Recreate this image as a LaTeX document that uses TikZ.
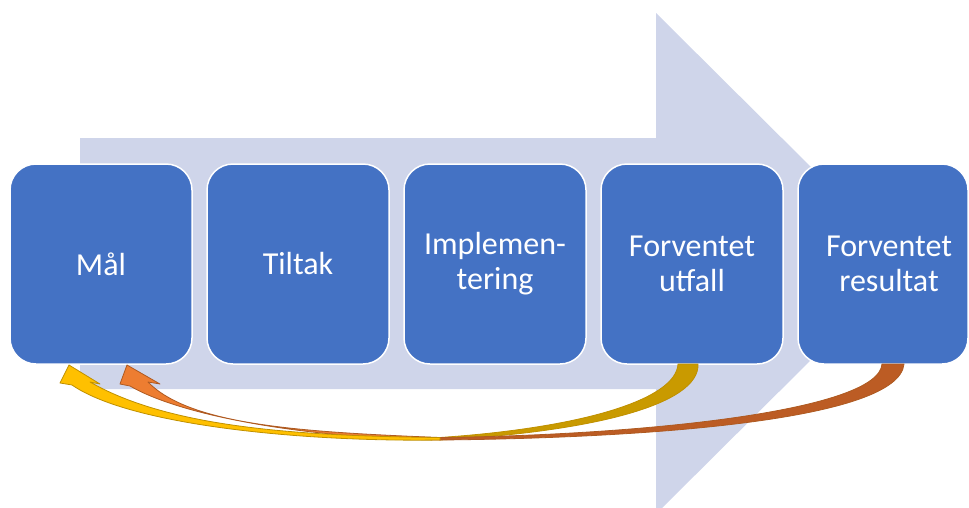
\documentclass[tikz,border=0pt]{standalone}
\usepackage{fontspec}
\setmainfont{Carlito}
\usetikzlibrary{positioning, calc}
\definecolor{boxblue}{HTML}{4472C4}
\definecolor{shaftblue}{HTML}{CFD5EA}
\definecolor{goldfront}{HTML}{FFC000}
\definecolor{goldback}{HTML}{C99A00}
\definecolor{goldedge}{HTML}{BF9000}
\definecolor{orangefront}{HTML}{ED7D31}
\definecolor{orangeback}{HTML}{BC5C24}
\definecolor{orangeedge}{HTML}{AE5A21}

\begin{document}
\begin{tikzpicture}[x=1pt, y=-1pt,
  stepbox/.style = {draw=white, line width=1.5pt, fill=boxblue, rounded corners=26pt,
    minimum width=182pt, minimum height=200pt, inner sep=0pt, outer sep=0pt,
    align=center, text=white, font=\fontsize{32}{35}\selectfont},
  band/.style = {line width=0.8pt, line join=round}]
			\def\shaftL{80};
			\def\shaftT{138};
			\def\shaftB{389};
			\def\headX{656};

			\useasboundingbox (0,0) rectangle (969,507);
			\clip (0,0) rectangle (969,507);

			\fill [shaftblue] (\shaftL,\shaftT) -- (\headX,\shaftT) -- (\headX,13) -- (908,263.5)
				-- (\headX,514) -- (\headX,\shaftB) -- (\shaftL,\shaftB) -- cycle;

			\node [stepbox] (maal) at (101,264) {Mål};
			\node [stepbox, right=15pt of maal] (tiltak) {Tiltak};
			\node [stepbox, right=15pt of tiltak] (impl) {Implemen-\\tering};
			\node [stepbox, right=15pt of impl] (utfall) {Forventet\\utfall};
			\node [stepbox, minimum width=170pt, right=15pt of utfall] (resultat)
				{\hspace*{12pt}Forventet\\\hspace*{12pt}resultat};

			\coordinate (goldR) at ([xshift=6pt]utfall.south);
			\coordinate (goldL) at ([xshift=-14pt]utfall.south);
			\coordinate (goldTip) at ([xshift=-32pt, yshift=-1pt]maal.south);
			\coordinate (orangeR) at ([xshift=21pt]resultat.south);
			\coordinate (orangeL) at ([xshift=-1pt]resultat.south);
			\coordinate (orangeTip) at ([xshift=26pt, yshift=-1pt]maal.south);
			\coordinate (crossHi) at (440,437.5);
			\coordinate (crossLo) at (440,440);

			\begin{scope}[band]
				\filldraw [fill=goldback, draw=goldedge] (goldR) .. controls +(2,41) and +(150,-8) .. (crossLo)
					-- (crossHi) .. controls +(140,-9.5) and +(-2,36) .. (goldL) -- cycle;
				\filldraw [fill=orangeback, draw=orangeedge] (orangeR) .. controls +(-5,56) and +(210,-2) .. (crossLo)
					-- (crossHi) .. controls +(210,-2.5) and +(-3,46) .. (orangeL) -- cycle;

				\filldraw [fill=orangefront, draw=orangeedge] (crossHi) .. controls +(-140,-5.5) and +(42,43) .. ($(orangeTip)+(21,17)$)
					-- ($(orangeTip)+(33,19)$) -- (orangeTip) -- ($(orangeTip)+(-7,19)$) -- ($(orangeTip)+(3,21)$)
					.. controls +(50,29) and +(-140,-2) .. (crossLo) -- cycle;
				\filldraw [fill=goldfront, draw=goldedge] (crossHi) .. controls +(-140,-1.5) and +(80,46) .. ($(goldTip)+(21,17)$)
					-- ($(goldTip)+(31,19)$) -- (goldTip) -- ($(goldTip)+(-9,18)$) -- ($(goldTip)+(3,20)$)
					.. controls +(58,40) and +(-140,2) .. (crossLo) -- cycle;
			\end{scope}
		\end{tikzpicture}
\end{document}
